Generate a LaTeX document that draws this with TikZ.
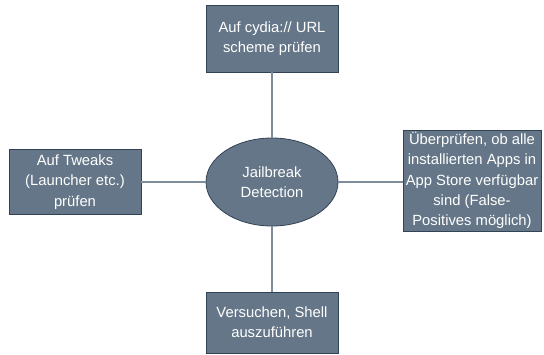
\documentclass[tikz,border=0pt]{standalone}
\usepackage{fontspec}
\setmainfont{Liberation Sans}
\usetikzlibrary{shapes.geometric}
\definecolor{boxfill}{HTML}{647687}
\definecolor{boxline}{HTML}{314354}
\definecolor{linkline}{HTML}{7F8C99}
\begin{document}
\begin{tikzpicture}[x=1pt,y=-1pt,
  topic/.style={draw=boxline, fill=boxfill, line width=0.8pt, text=white,
    font=\fontsize{14.8}{20.3}\selectfont, align=center, inner sep=0pt},
  hub/.style={topic, ellipse},
  link/.style={draw=linkline, line width=1.2pt}]
\useasboundingbox (0,0) rectangle (544,354);
% central ellipse and the four checks around it
\node[hub, minimum width=132pt, minimum height=88pt] (c) at (272,182) {Jailbreak\\Detection};
\node[topic, minimum width=132pt, minimum height=67pt] (t) at (272,38.5) {Auf cydia:// URL\\scheme prüfen};
\node[topic, minimum width=132pt, minimum height=65pt] (l) at (75,182) {Auf Tweaks\\(Launcher etc.)\\prüfen};
\node[topic, minimum width=138pt, minimum height=101pt] (r) at (472,180.5) {Überprüfen, ob alle\\installierten Apps in\\App Store verfügbar\\sind (False-\\Positives möglich)};
\node[topic, minimum width=132pt, minimum height=61pt] (b) at (272,322.5) {Versuchen, Shell\\auszuführen};
% spokes
\draw[link] (t.south) -- (c.north);
\draw[link] (l.east) -- (c.west);
\draw[link] (c.east) -- (c.east -| r.west);
\draw[link] (c.south) -- (b.north);
\end{tikzpicture}
\end{document}
